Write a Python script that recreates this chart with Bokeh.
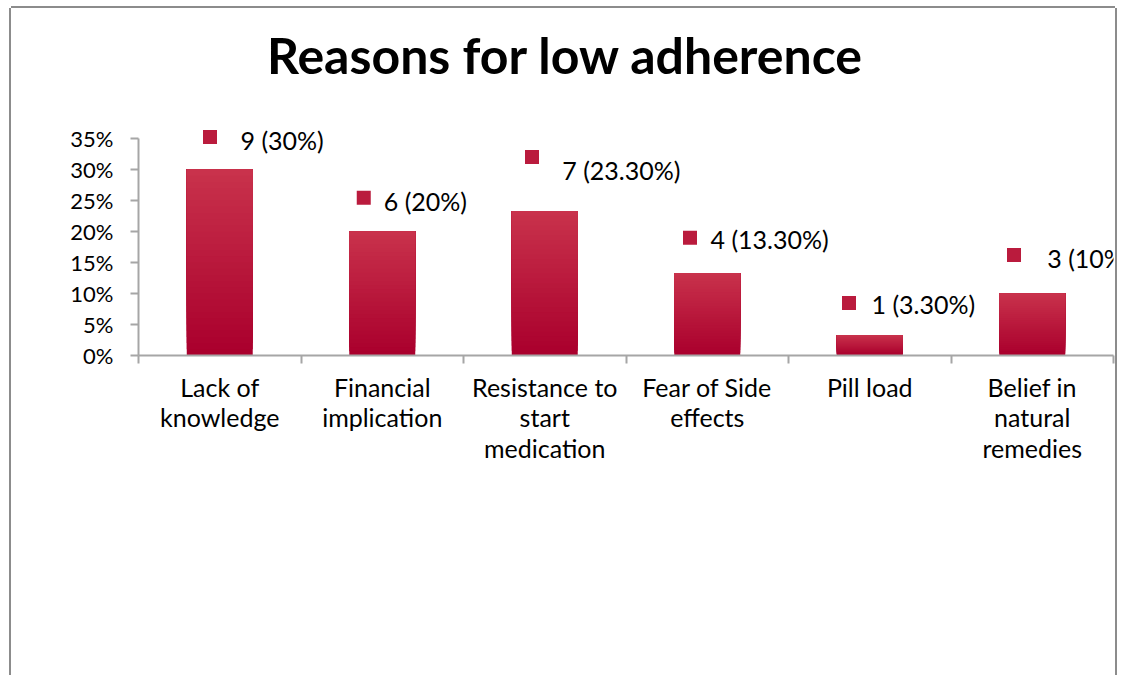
from bokeh.plotting import figure
from bokeh.models import Range1d, FixedTicker, Label, ColumnDataSource
from bokeh.embed import file_html
from bokeh.resources import INLINE
from bokeh.core.properties import value

# ---------------- data ----------------
categories = ["Lack of knowledge", "Financial implication", "Resistance to start medication",
              "Fear of Side effects", "Pill load", "Belief in natural remedies"]
category_lines = ["Lack of\nknowledge", "Financial\nimplication", "Resistance to\nstart\nmedication",
                  "Fear of Side\neffects", "Pill load", "Belief in\nnatural\nremedies"]
counts = [9, 6, 7, 4, 1, 3]
percents = [30, 20, 23.3, 13.3, 3.3, 10]
label_texts = ["9 (30%)", "6 (20%)", "7 (23.30%)", "4 (13.30%)", "1 (3.30%)", "3 (10%)"]
y_ticks = [0, 5, 10, 15, 20, 25, 30, 35]
y_tick_labels = ["0%", "5%", "10%", "15%", "20%", "25%", "30%", "35%"]
title_text = "Reasons for low adherence"

# ---------------- layout / style ----------------
X0, Y0 = 11, 8                 # page position of the figure
W, H = 1104, 667
FRAME_LEFT, FRAME_RIGHT, FRAME_BOTTOM = 138, 1113, 355
ML = FRAME_LEFT - X0
MR = X0 + W - FRAME_RIGHT
MT = 0
MB = Y0 + H - FRAME_BOTTOM
FRAME_W = W - ML - MR
FRAME_H = H - MT - MB
PX_PER_PCT = 6.2
PX_PER_CAT = FRAME_W / len(categories)
Y_END = FRAME_H / PX_PER_PCT
BASE_FIX = 0.37                # baseline correction (fraction of font size)

# label offsets in pixels relative to (bar centre, bar top)
marker_dx = [-9.75, -18.5, -12.75, -17.25, -20.75, -18.25]
marker_dy = [32.5, 33.7, 54, 35.2, 32, 38.5]
text_dx = [20.75, 1.5, 17.5, 3.25, 1.75, 15]
text_dy = [20.7, 21.7, 31.5, 24.8, 22.2, 26]
LABEL_FS = 25

TITLE_CX, TITLE_BASE, TITLE_FS = 565, 73, 50

FONT = "Lato"
GRAY = "#a6a6a6"
FRAME_GRAY = "#8c8c8c"
BOTTOM_RGB = (170, 0, 45)
TOP_RGB = (201, 50, 76)

p = figure(width=W, height=H, output_backend="svg", toolbar_location=None,
           x_range=Range1d(0, len(categories)), y_range=Range1d(0, Y_END),
           min_border_left=ML, min_border_right=MR, min_border_top=MT, min_border_bottom=MB,
           title=None)
p.styles = {"margin-left": "%dpx" % X0, "margin-top": "%dpx" % Y0,
            "box-shadow": "-2px 0 0 0 %s, 2px 0 0 0 %s, 0 -2px 0 0 %s" % (FRAME_GRAY, FRAME_GRAY, FRAME_GRAY)}
p.outline_line_color = None
p.xgrid.visible = False
p.ygrid.visible = False
p.background_fill_color = "white"
p.border_fill_color = "white"

# gradient bars: overlapping layers, each from a fraction of the value up to the top
N = 30
xs, bots, tops, cols = [], [], [], []
for i, v in enumerate(percents):
    for k in range(N):
        t = k / (N - 1)
        rgb = [int(BOTTOM_RGB[c] + (TOP_RGB[c] - BOTTOM_RGB[c]) * t) for c in range(3)]
        xs.append(i + 0.5)
        bots.append(v * k / N)
        tops.append(v)
        cols.append("#%02x%02x%02x" % tuple(rgb))
bar_src = ColumnDataSource(dict(x=xs, bottom=bots, top=tops, color=cols))
p.vbar(x="x", bottom="bottom", top="top", width=0.406, fill_color="color",
       line_color=None, source=bar_src)

# data labels: square key + text
n = len(percents)
mx = [i + 0.5 + marker_dx[i] / PX_PER_CAT for i in range(n)]
my = [percents[i] + marker_dy[i] / PX_PER_PCT for i in range(n)]
tx = [i + 0.5 + text_dx[i] / PX_PER_CAT for i in range(n)]
ty = [percents[i] + (text_dy[i] + BASE_FIX * LABEL_FS) / PX_PER_PCT for i in range(n)]
p.scatter(x=mx, y=my, marker="square", size=14, fill_color="#ba1b3d", line_color=None)
p.text(x=tx, y=ty, text=label_texts, text_font=value(FONT), text_font_size="%dpx" % LABEL_FS,
       text_align="left", text_baseline="alphabetic", text_color="#000000")

# title
p.add_layout(Label(x=(TITLE_CX - FRAME_LEFT) / PX_PER_CAT,
                   y=(FRAME_BOTTOM - TITLE_BASE + BASE_FIX * TITLE_FS) / PX_PER_PCT,
                   text=title_text, text_font=FONT, text_font_size="%dpx" % TITLE_FS,
                   text_font_style="bold", text_align="center", text_baseline="alphabetic",
                   text_color="#000000"))

# y axis
ya = p.yaxis[0]
ya.ticker = FixedTicker(ticks=y_ticks, minor_ticks=[])
ya.major_label_overrides = {t: l for t, l in zip(y_ticks, y_tick_labels)}
ya.bounds = (0, 35)
ya.axis_line_color = GRAY
ya.axis_line_width = 2
ya.major_tick_line_color = GRAY
ya.major_tick_line_width = 2
ya.major_tick_out = 8
ya.major_tick_in = 0
ya.minor_tick_out = 0
ya.minor_tick_in = 0
ya.major_label_standoff = 17
ya.major_label_text_font = FONT
ya.major_label_text_font_size = "22px"
ya.major_label_text_color = "#000000"

# x axis
xa = p.xaxis[0]
centers = [i + 0.5 for i in range(len(categories))]
xa.ticker = FixedTicker(ticks=centers, minor_ticks=list(range(len(categories) + 1)))
xa.major_label_overrides = {c: l for c, l in zip(centers, category_lines)}
xa.axis_line_color = GRAY
xa.axis_line_width = 2
xa.major_tick_out = 0
xa.major_tick_in = 0
xa.minor_tick_out = 8
xa.minor_tick_in = 0
xa.minor_tick_line_color = GRAY
xa.minor_tick_line_width = 2
xa.major_label_standoff = 8
xa.major_label_text_font = FONT
xa.major_label_text_font_size = "25px"
xa.major_label_text_line_height = 1.02
xa.major_label_text_color = "#000000"

open("out.html", "w").write(file_html(p, INLINE))
